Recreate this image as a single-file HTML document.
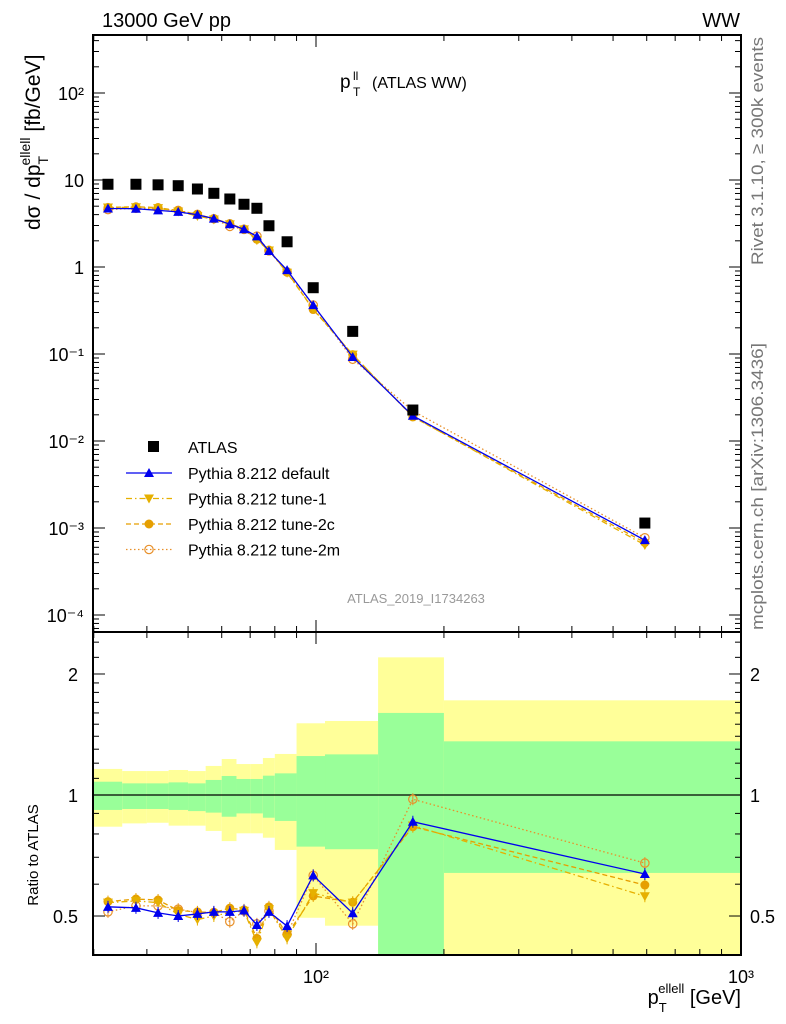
<!DOCTYPE html>
<html><head><meta charset="utf-8"><style>
html,body{margin:0;padding:0;background:#fff;width:786px;height:1024px;overflow:hidden;}
svg{display:block;font-family:"Liberation Sans",sans-serif;}
</style></head><body>
<svg id="c" width="786" height="1024" viewBox="0 0 786 1024" xmlns="http://www.w3.org/2000/svg"></svg>
<script>
// ---- data ----
const binEdges = [30,35,40,45,50,55,60,65,70,75,80,90,105,140,200,1000];
const pointX = [32.4,37.7,42.5,47.4,52.6,57.5,62.7,67.7,72.6,77.5,85.5,98.5,122,169,594];
const atlasVals = [8.93,8.93,8.8,8.6,7.88,7.03,6.05,5.26,4.73,2.98,1.95,0.578,0.182,0.0227,0.00114];
const ratioDefault = [0.527,0.524,0.509,0.500,0.506,0.512,0.512,0.516,0.475,0.512,0.472,0.631,0.508,0.858,0.636];
const ratioTune1 = [0.54,0.545,0.54,0.505,0.49,0.50,0.51,0.515,0.43,0.52,0.44,0.57,0.54,0.84,0.56];
const ratioTune2c = [0.543,0.551,0.548,0.516,0.512,0.51,0.523,0.518,0.44,0.527,0.45,0.561,0.541,0.834,0.597];
const ratioTune2m = [0.512,0.53,0.53,0.52,0.51,0.51,0.484,0.515,0.478,0.515,0.45,0.631,0.478,0.976,0.677];
const yellowHi = [1.161,1.147,1.147,1.154,1.147,1.181,1.229,1.194,1.194,1.236,1.265,1.508,1.528,2.20,1.72];
const greenHi = [1.079,1.069,1.069,1.075,1.069,1.090,1.115,1.096,1.096,1.117,1.132,1.250,1.262,1.60,1.36];
const greenLo = [0.918,0.923,0.923,0.918,0.912,0.904,0.883,0.900,0.900,0.878,0.862,0.744,0.733,0.30,0.64];
const yellowLo = [0.834,0.850,0.853,0.839,0.839,0.814,0.768,0.803,0.803,0.783,0.730,0.495,0.473,0.20,0.20];
const mainYTicks = ["10⁻⁴","10⁻³","10⁻²","10⁻¹","1","10","10²"];

// ---- geometry ----
const L=93,R=741,T=35,MB=632,RB=955;
const X=v=>316+425*(Math.log10(v)-2);
const YM=v=>93-87*(Math.log10(v)-2);
const YR=v=>795-402*Math.log10(v);
const svg=document.getElementById('c');
const NS='http://www.w3.org/2000/svg';
function mk(tag,attrs,parent){const e=document.createElementNS(NS,tag);for(const k in attrs)e.setAttribute(k,attrs[k]);(parent||svg).appendChild(e);return e;}
function txt(x,y,s,attrs,parent){const e=mk('text',Object.assign({x:x,y:y},attrs||{}),parent);e.textContent=s;return e;}

const defs=mk('defs',{});
const cp1=mk('clipPath',{id:'cm'},defs);mk('rect',{x:L,y:T,width:R-L,height:MB-T},cp1);
const cp2=mk('clipPath',{id:'cr'},defs);mk('rect',{x:L,y:MB,width:R-L,height:RB-MB},cp2);

const bands=mk('g',{'clip-path':'url(#cr)'});


for(let i=0;i<binEdges.length-1;i++){
  const x0=X(binEdges[i]),x1=X(binEdges[i+1]);
  const y=mk('rect',{x:x0,y:YR(yellowHi[i]),width:x1-x0,height:YR(yellowLo[i])-YR(yellowHi[i]),fill:'#ffff99'},bands);
  
  
  const g=mk('rect',{x:x0,y:YR(greenHi[i]),width:x1-x0,height:YR(greenLo[i])-YR(greenHi[i]),fill:'#99ff99'},bands);
  
  
}
mk('line',{x1:L,x2:R,y1:YR(1),y2:YR(1),stroke:'#000','stroke-width':1.3});

const series=[
 {name:'default',r:ratioDefault,c:'#0000ee',dash:'',m:'tri'},
 {name:'tune-1',r:ratioTune1,c:'#e6b000',dash:'6,3,1.5,3',m:'tridown'},
 {name:'tune-2c',r:ratioTune2c,c:'#e69f00',dash:'5,3',m:'circ'},
 {name:'tune-2m',r:ratioTune2m,c:'#e8902a',dash:'1.5,2.5',m:'ocirc'}
];
function marker(type,x,y,c,g){
  let e;
  if(type==='tri')e=mk('polygon',{points:`${x},${y-5} ${x-5},${y+4} ${x+5},${y+4}`,fill:c},g);
  else if(type==='tridown')e=mk('polygon',{points:`${x},${y+5} ${x-5},${y-4} ${x+5},${y-4}`,fill:c},g);
  else if(type==='circ')e=mk('circle',{cx:x,cy:y,r:4.5,fill:c},g);
  else e=mk('circle',{cx:x,cy:y,r:4.2,fill:'none',stroke:c,'stroke-width':1.2},g);
  return e;
}
series.slice().reverse().forEach(s=>{
  ['main','ratio'].forEach(panel=>{
    const g=mk('g',{'clip-path':panel==='main'?'url(#cm)':'url(#cr)'});
    
    
    const ys=s.r.map((r,i)=>panel==='main'?YM(r*atlasVals[i]):YR(r));
    const pts=pointX.map((v,i)=>X(v)+','+ys[i]).join(' ');
    mk('polyline',{points:pts,fill:'none',stroke:s.c,'stroke-width':1.3,'stroke-dasharray':s.dash},g);
    pointX.forEach((v,i)=>{
      if(panel==='ratio'){mk('line',{x1:X(v),x2:X(v),y1:ys[i]-6,y2:ys[i]+6,stroke:s.c,'stroke-width':1},g);}
      const m=marker(s.m,X(v),ys[i],s.c,g);
      
      
    });
  });
});
const ag=mk('g',{'clip-path':'url(#cm)'});


pointX.forEach((v,i)=>{
  const r=mk('rect',{x:X(v)-5.5,y:YM(atlasVals[i])-5.5,width:11,height:11,fill:'#000'},ag);
  
  
});

mk('rect',{x:L,y:T,width:R-L,height:MB-T,fill:'none',stroke:'#000','stroke-width':2});
mk('rect',{x:L,y:MB,width:R-L,height:RB-MB,fill:'none',stroke:'#000','stroke-width':2});

const ax=mk('g',{stroke:'#000','stroke-width':1});


for(let d=10;d<=1000;d*=10){for(let k=1;k<10;k++){const v=d*k;if(v<30||v>1000)continue;const x=X(v);const len=(k===1)?12:6;
 [[T,1],[MB,-1],[MB,1],[RB,-1]].forEach(([y,s])=>mk('line',{x1:x,x2:x,y1:y,y2:y+s*len},ax));}}
for(let e=-5;e<=2;e++){for(let k=1;k<10;k++){const v=k*Math.pow(10,e);const y=YM(v);if(y<T||y>MB)continue;const len=k===1?12:6;
 mk('line',{x1:L,x2:L+len,y1:y,y2:y},ax);mk('line',{x1:R,x2:R-len,y1:y,y2:y},ax);}}
[0.4,0.5,0.6,0.7,0.8,0.9,1,2].forEach(v=>{const y=YR(v);const len=(v===0.5||v===1||v===2)?12:6;
 mk('line',{x1:L,x2:L+len,y1:y,y2:y},ax);mk('line',{x1:R,x2:R-len,y1:y,y2:y},ax);});
[1.1,1.2,1.3,1.4,1.5,1.6,1.7,1.8,1.9,2.2,2.4].forEach(v=>{const y=YR(v);mk('line',{x1:L,x2:L+6,y1:y,y2:y},ax);mk('line',{x1:R,x2:R-6,y1:y,y2:y},ax);});

const labs=mk('g',{'font-size':18,fill:'#000'});


mainYTicks.forEach((s,i)=>{txt(84,YM(Math.pow(10,i-4))+7,s,{'text-anchor':'end'},labs);});
txt(78,YR(2)+7,'2',{'text-anchor':'end'},labs);txt(78,YR(1)+7,'1',{'text-anchor':'end'},labs);txt(78,YR(0.5)+7,'0.5',{'text-anchor':'end'},labs);
txt(750,YR(2)+7,'2',{},labs);txt(750,YR(1)+7,'1',{},labs);txt(750,YR(0.5)+7,'0.5',{},labs);
txt(316,983,'10²',{'text-anchor':'middle'},labs);txt(741,983,'10³',{'text-anchor':'middle'},labs);

txt(102,27,'13000 GeV pp',{'font-size':20},svg);
txt(740,27,'WW',{'font-size':20,'text-anchor':'end'},svg);
txt(340,88,'p',{'font-size':19},svg);
txt(353,80,'ll',{'font-size':12},svg);txt(353,96,'T',{'font-size':12},svg);
txt(372,88,'(ATLAS WW)',{'font-size':16},svg);
txt(416,603,'ATLAS_2019_I1734263',{'font-size':13,fill:'#999','text-anchor':'middle'},svg);

const yt=txt(0,0,'',{'font-size':21,transform:'translate(40,230) rotate(-90)'},svg);


yt.innerHTML='dσ / dp<tspan font-size="14" dy="8">T</tspan><tspan font-size="14" dy="-18" dx="-8">ellell</tspan><tspan dy="10"> [fb/GeV]</tspan>';
const rt=txt(0,0,'Ratio to ATLAS',{'font-size':15,transform:'translate(38,855) rotate(-90)','text-anchor':'middle'},svg);


const xt=txt(0,0,'',{'font-size':20,'text-anchor':'end',x:741,y:1004},svg);


xt.innerHTML='p<tspan font-size="13" dy="8">T</tspan><tspan font-size="13" dy="-19" dx="-7">ellell</tspan><tspan dy="11"> [GeV]</tspan>';
txt(0,0,'Rivet 3.1.10, ≥ 300k events',{'font-size':17,fill:'#777',textLength:228,lengthAdjust:'spacingAndGlyphs',transform:'translate(763,265) rotate(-90)'},svg);
txt(0,0,'mcplots.cern.ch [arXiv:1306.3436]',{'font-size':17,fill:'#777',textLength:287,lengthAdjust:'spacingAndGlyphs',transform:'translate(763,630) rotate(-90)'},svg);

const lg=mk('g',{});


mk('rect',{x:148,y:441,width:11,height:11,fill:'#000'},lg);
txt(188,453,'ATLAS',{'font-size':16},lg);
series.forEach((s,i)=>{const y=473+i*25.5;
  mk('line',{x1:126,x2:172,y1:y,y2:y,stroke:s.c,'stroke-width':1.3,'stroke-dasharray':s.dash},lg);
  marker(s.m,149,y,s.c,lg);
  txt(188,y+6,'Pythia 8.212 '+s.name,{'font-size':16},lg);
});
</script>
</body></html>
